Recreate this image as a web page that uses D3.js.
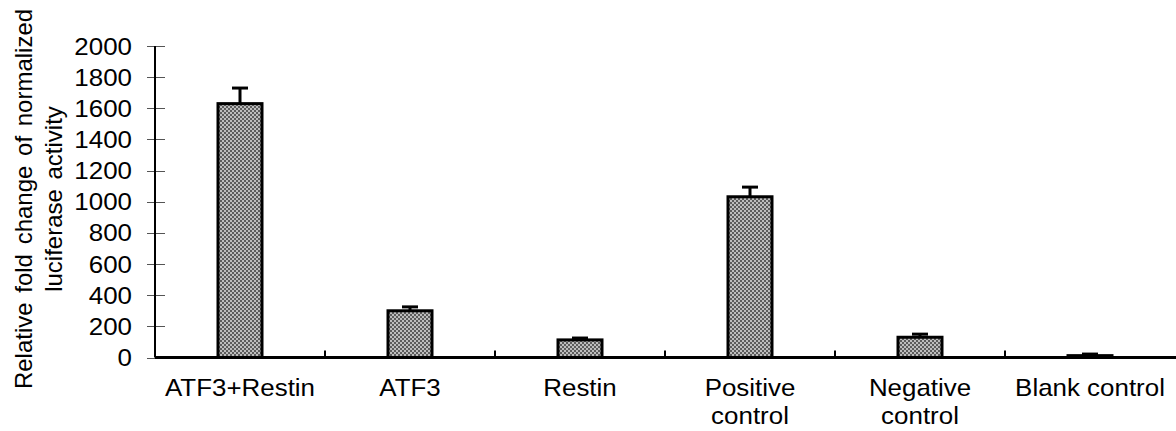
<!DOCTYPE html>
<html>
<head>
<meta charset="utf-8">
<script src="https://cdn.jsdelivr.net/npm/d3@7"></script>
<style>
  body { margin: 0; background: #fff; }
  svg { display: block; }
  text { font-family: "Liberation Sans", Arial, sans-serif; fill: #000; }
</style>
</head>
<body>
<svg id="chart" width="1176" height="431"></svg>
<script>
// data
var groups = ["ATF3+Restin", "ATF3", "Restin", "Positive control", "Negative control", "Blank control"]
var labelLines = [["ATF3+Restin"], ["ATF3"], ["Restin"], ["Positive", "control"], ["Negative", "control"], ["Blank control"]]
var means = [1630, 300, 113, 1032, 130, 12]
var errs = [100, 25, 12, 62, 20, 10]
var yTicks = [0, 200, 400, 600, 800, 1000, 1200, 1400, 1600, 1800, 2000]

var svg = d3.select("#chart")
var pLeft = 155, pRight = 1175, pTop = 46, pBottom = 357.5
var sx = 1.08 // text in the picture is a bit wider than Arial
var fs = "24px"

var x = d3.scaleBand().domain(groups).range([pLeft, pRight]).paddingInner(0).paddingOuter(0)
var y = d3.scaleLinear().domain([0, 2000]).range([pBottom, pTop])

// checker fill
var defs = svg.append("defs")
var pat = defs.append("pattern").attr("id", "chk")
  .attr("width", 4).attr("height", 4).attr("patternUnits", "userSpaceOnUse")
pat.append("rect").attr("width", 4).attr("height", 4).attr("fill", "#bdbdbd")
pat.append("rect").attr("width", 2).attr("height", 2).attr("fill", "#5c5c5c")
pat.append("rect").attr("x", 2).attr("y", 2).attr("width", 2).attr("height", 2).attr("fill", "#5c5c5c")

// y ticks (crossing the axis)
svg.selectAll("line.yt")
  .data(yTicks)
  .enter()
  .append("line")
    .attr("x1", pLeft - 8).attr("x2", pLeft + 10)
    .attr("y1", d => Math.round(y(d)) + 0.5).attr("y2", d => Math.round(y(d)) + 0.5)
    .attr("stroke", "#555").attr("stroke-width", 1)

svg.selectAll("text.yl")
  .data(yTicks)
  .enter()
  .append("text")
    .attr("transform", d => "translate(132," + (y(d) + 8.5) + ") scale(" + sx + ",1)")
    .attr("text-anchor", "end")
    .style("font-size", fs)
    .text(d => d)

// bars
var bw = 44
svg.selectAll("rect.bar")
  .data(means)
  .enter()
  .append("rect")
    .attr("x", (d, i) => x(groups[i]) + x.bandwidth() / 2 - bw / 2)
    .attr("y", d => y(d))
    .attr("width", bw)
    .attr("height", d => pBottom - y(d))
    .attr("fill", "url(#chk)")
    .attr("stroke", "#000").attr("stroke-width", 3)

// error bars
var eb = svg.append("g")
means.forEach(function(m, i) {
  var cx = x(groups[i]) + x.bandwidth() / 2
  eb.append("line")
    .attr("x1", cx).attr("x2", cx)
    .attr("y1", y(m)).attr("y2", y(m + errs[i]))
    .attr("stroke", "#000").attr("stroke-width", 3)
  eb.append("line")
    .attr("x1", cx - 8).attr("x2", cx + 8)
    .attr("y1", y(m + errs[i])).attr("y2", y(m + errs[i]))
    .attr("stroke", "#000").attr("stroke-width", 3)
})

// axes
svg.append("line")
  .attr("x1", pLeft).attr("x2", pLeft).attr("y1", pTop).attr("y2", pBottom)
  .attr("stroke", "#000").attr("stroke-width", 2)
svg.append("line")
  .attr("x1", pLeft).attr("x2", 1176).attr("y1", pBottom).attr("y2", pBottom)
  .attr("stroke", "#000").attr("stroke-width", 3)

// category boundary ticks pointing up
svg.selectAll("line.xt")
  .data(groups.slice(1))
  .enter()
  .append("line")
    .attr("x1", d => x(d)).attr("x2", d => x(d))
    .attr("y1", pBottom).attr("y2", pBottom - 7)
    .attr("stroke", "#000").attr("stroke-width", 2)

// category labels
labelLines.forEach(function(lines, i) {
  var cx = x(groups[i]) + x.bandwidth() / 2
  lines.forEach(function(t, j) {
    svg.append("text")
      .attr("transform", "translate(" + cx + "," + (396 + j * 28) + ") scale(" + sx + ",1)")
      .attr("text-anchor", "middle")
      .style("font-size", fs)
      .text(t)
  })
})

// y title
var ty = svg.append("g").attr("transform", "translate(0,199) rotate(-90)")
ty.append("text").attr("x", 0).attr("y", 32)
  .attr("text-anchor", "middle").style("font-size", fs).style("word-spacing", "3px")
  .text("Relative fold change of normalized")
ty.append("text").attr("x", 0).attr("y", 62)
  .attr("text-anchor", "middle").style("font-size", fs).style("word-spacing", "3px")
  .text("luciferase activity")
</script>
</body>
</html>
